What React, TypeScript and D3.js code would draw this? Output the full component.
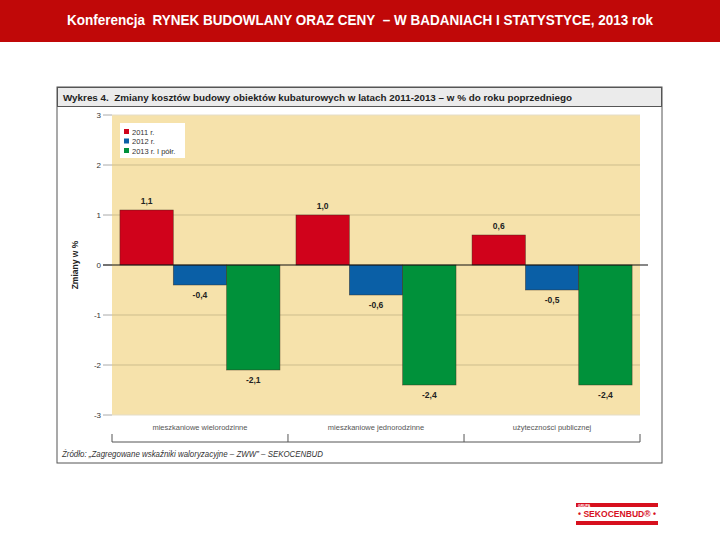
import React from "react";
import * as d3 from "d3";

const categories = ["mieszkaniowe wielorodzinne", "mieszkaniowe jednorodzinne", "użyteczności publicznej"];
const seriesNames = ["2011 r.", "2012 r.", "2013 r. I półr."];
const values2011 = [1.1, 1.0, 0.6];
const values2012 = [-0.4, -0.6, -0.5];
const values2013 = [-2.1, -2.4, -2.4];
const yTicks = [3, 2, 1, 0, -1, -2, -3];
const seriesColors = ["#d0021b", "#0a5fa6", "#00913a"];

const W = 720;
const H = 540;
const fmt = (v: number) => v.toFixed(1).replace(".", ",");

export default function App() {
  const series = [values2011, values2012, values2013];
  const plotL = 112, plotR = 640, plotT = 115, plotB = 415;
  const y = d3.scaleLinear().domain([-3, 3]).range([plotB, plotT]);
  const x0 = d3.scaleBand<string>().domain(categories).range([plotL, plotR]).paddingInner(0.091).paddingOuter(0.045);
  const x1 = d3.scaleBand<number>().domain([0, 1, 2]).range([0, x0.bandwidth()]);
  const bracketY = 442;
  const bounds = [plotL, ...categories.slice(1).map((c) => (x0(c) as number) - (x0.step() - x0.bandwidth()) / 2), plotR];
  const font = "'Liberation Sans', Arial, sans-serif";

  return (
    <svg width={W} height={H} style={{ position: "absolute", left: 0, top: 0, background: "#fff" }} fontFamily={font}>
      <rect x={0} y={0} width={W} height={42} fill="#c00808" />
      <text x={360} y={25} textAnchor="middle" fill="#fff" fontWeight="bold" fontSize={14}
        fontFamily="'Liberation Sans Narrow', 'Liberation Sans', Arial, sans-serif"
        textLength={586} lengthAdjust="spacingAndGlyphs">
        {"Konferencja\u00a0\u00a0RYNEK BUDOWLANY ORAZ CENY\u00a0\u00a0– W BADANIACH I STATYSTYCE, 2013 rok"}
      </text>

      {/* chart frame */}
      <rect x={57} y={87} width={605} height={376} fill="#fff" stroke="#555" strokeWidth={1} />
      <rect x={57.5} y={87.5} width={604} height={19} fill="#ebebeb" stroke="#555" strokeWidth={1} />
      <text x={63} y={101} fontSize={9.5} fontWeight="bold" fill="#222" textLength={509} lengthAdjust="spacingAndGlyphs">
        {"Wykres 4.\u00a0\u00a0Zmiany kosztów budowy obiektów kubaturowych w latach 2011-2013 – w % do roku poprzedniego"}
      </text>

      <rect x={plotL} y={plotT} width={plotR - plotL} height={plotB - plotT} fill="#f6e2ab" />

      {yTicks.map((t) => (
        <g key={t}>
          {t !== 0 && (
            <line x1={plotL} x2={plotR} y1={y(t)} y2={y(t)} stroke={t === 3 || t === -3 ? "#e4ddc8" : "#cdbd8c"} strokeWidth={1} />
          )}
          <line x1={103} x2={plotL} y1={y(t)} y2={y(t)} stroke="#aaa" strokeWidth={1} />
          <text x={101} y={y(t) + 3} textAnchor="end" fontSize={8} fill="#333">{t}</text>
        </g>
      ))}

      <text transform={`translate(78,${y(0)}) rotate(-90)`} textAnchor="middle" fontSize={8.5} fontWeight="bold" fill="#222">
        Zmiany w %
      </text>

      {categories.map((c, ci) => (
        <g key={c} transform={`translate(${x0(c)},0)`}>
          {series.map((vals, si) => {
            const v = vals[ci];
            const bx = x1(si) as number;
            const top = y(Math.max(0, v));
            const bot = y(Math.min(0, v));
            return (
              <g key={si}>
                <rect x={bx} y={top} width={x1.bandwidth()} height={bot - top} fill={seriesColors[si]} stroke="#3a2a1a" strokeWidth={0.6} strokeOpacity={0.7} />
                <text x={bx + x1.bandwidth() / 2} y={v >= 0 ? top - 6 : bot + 13} textAnchor="middle" fontSize={8.5} fontWeight="bold" fill="#222">
                  {fmt(v)}
                </text>
              </g>
            );
          })}
          <text x={x0.bandwidth() / 2} y={430} textAnchor="middle" fontSize={7.5} fill="#555">{c}</text>
        </g>
      ))}

      <line x1={103} x2={648} y1={y(0)} y2={y(0)} stroke="#111" strokeWidth={1.2} />

      <line x1={plotL} x2={plotR} y1={bracketY} y2={bracketY} stroke="#555" strokeWidth={1} />
      {bounds.map((b, i) => (
        <line key={i} x1={b} x2={b} y1={bracketY - 8} y2={bracketY} stroke="#555" strokeWidth={1} />
      ))}

      {/* legend */}
      <rect x={120} y={123} width={65} height={35} fill="#fff" />
      {seriesNames.map((s, i) => (
        <g key={s}>
          <rect x={124} y={129 + i * 9.5} width={5} height={5} fill={seriesColors[i]} />
          <text x={132} y={134.5 + i * 9.5} fontSize={7.5} fill="#333">{s}</text>
        </g>
      ))}

      <text x={62} y={457} fontSize={8.5} fontStyle="italic" fill="#333" textLength={261} lengthAdjust="spacingAndGlyphs">
        Źródło: „Zagregowane wskaźniki waloryzacyjne – ZWW” – SEKOCENBUD
      </text>

      {/* logo */}
      <rect x={576} y={503} width={82} height={4} fill="#d7101e" />
      <text x={578} y={506.5} fontSize={3.5} fill="#fff" fontWeight="bold">GRUPA</text>
      <text x={617} y={517} textAnchor="middle" fontSize={8.5} fontWeight="bold" fill="#d7101e" textLength={78} lengthAdjust="spacingAndGlyphs">
        • SEKOCENBUD® •
      </text>
      <rect x={576} y={521} width={82} height={4} fill="#d7101e" />
    </svg>
  );
}
